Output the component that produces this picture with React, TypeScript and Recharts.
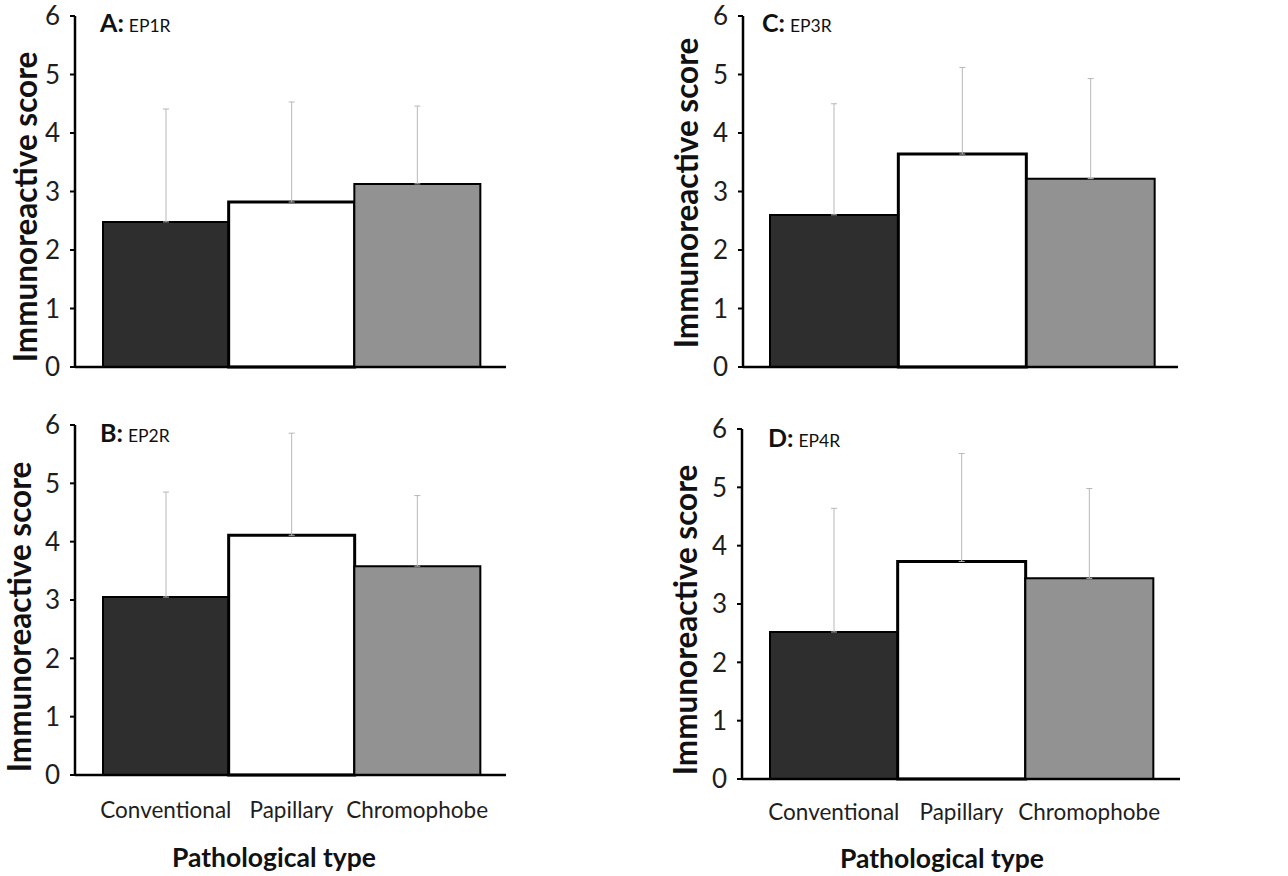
import { Bar, BarChart, Cell, ErrorBar, Label, XAxis, YAxis } from "recharts";

const categories = ["Conventional", "Papillary", "Chromophobe"];
const yTicks = [0, 1, 2, 3, 4, 5, 6];

// mean immunoreactive score and SD (upper error only) per pathological type
const ep1rMean = [2.48, 2.82, 3.13];
const ep1rSd = [1.93, 1.71, 1.33];
const ep2rMean = [3.05, 4.11, 3.58];
const ep2rSd = [1.8, 1.75, 1.21];
const ep3rMean = [2.6, 3.64, 3.22];
const ep3rSd = [1.9, 1.48, 1.71];
const ep4rMean = [2.52, 3.73, 3.44];
const ep4rSd = [2.12, 1.85, 1.54];

const fills = ["#2e2e2e", "#ffffff", "#929292"];
const borders = [2, 3, 2];
const FONT = "Lato, 'Open Sans', sans-serif";

type PanelProps = {
  letter: string;
  receptor: string;
  means: number[];
  sds: number[];
  left: number;
  top: number;
  width: number;
  height: number;
  axisWidth: number;
  margin: { top: number; right: number; bottom: number; left: number };
  padding: { left: number; right: number };
  xHeight: number;
  showX: boolean;
  tickGap: number;
  yLabel: { x: number; y: number };
  tag: { x: number; y: number };
  title?: { x: number; dy: number };
};

function Panel(p: PanelProps) {
  const data = categories.map((name, i) => ({
    name,
    mean: p.means[i],
    err: [0, p.sds[i]],
  }));

  return (
    <div style={{ position: "absolute", left: p.left, top: p.top }}>
      <BarChart
        width={p.width}
        height={p.height}
        data={data}
        margin={p.margin}
        barCategoryGap={0}
      >
        <XAxis
          dataKey="name"
          padding={p.padding}
          height={p.xHeight}
          axisLine={{ stroke: "#000", strokeWidth: 2.5 }}
          tickLine={false}
          tickSize={0}
          tickMargin={p.tickGap}
          tick={p.showX ? { fill: "#1e1e1e", fontSize: 22.5, fontFamily: FONT } : false}
          interval={0}
        >
          {p.title && (
            <Label
              content={({ viewBox }: any) => (
                <text
                  x={p.title!.x}
                  y={viewBox.y + p.title!.dy}
                  textAnchor="middle"
                  dominantBaseline="central"
                  fontFamily={FONT}
                  fontWeight="bold"
                  fontSize={26.5}
                  fill="#111"
                >
                  Pathological type
                </text>
              )}
            />
          )}
        </XAxis>
        <YAxis
          type="number"
          domain={[0, 6]}
          ticks={yTicks}
          interval={0}
          width={p.axisWidth}
          axisLine={{ stroke: "#000", strokeWidth: 2.5 }}
          tickLine={{ stroke: "#000", strokeWidth: 2 }}
          tickSize={5}
          tickMargin={10}
          tick={{ fill: "#1e1e1e", fontSize: 26, fontFamily: FONT }}
        >
          <Label
            content={() => (
              <text
                x={p.yLabel.x}
                y={p.yLabel.y}
                transform={`rotate(-90, ${p.yLabel.x}, ${p.yLabel.y})`}
                textAnchor="middle"
                dominantBaseline="central"
                fontFamily={FONT}
                fontWeight="bold"
                fontSize={31.5}
                fill="#111"
              >
                Immunoreactive score
              </text>
            )}
          />
        </YAxis>
        <Bar dataKey="mean" isAnimationActive={false}>
          {data.map((entry, i) => (
            <Cell
              key={`cell-${i}`}
              fill={fills[i]}
              stroke="#000"
              strokeWidth={borders[i]}
            />
          ))}
          <ErrorBar
            dataKey="err"
            direction="y"
            width={3}
            stroke="#b8b8b8"
            strokeWidth={1}
            isAnimationActive={false}
          />
        </Bar>
        <text x={p.tag.x} y={p.tag.y} fontFamily={FONT} fill="#111">
          <tspan fontSize={25} fontWeight="bold">
            {p.letter}:
          </tspan>
          <tspan fontSize={17.5} dx={5}>
            {p.receptor}
          </tspan>
        </text>
      </BarChart>
    </div>
  );
}

export default function App() {
  return (
    <div
      style={{
        position: "absolute",
        left: 0,
        top: 0,
        width: 1288,
        height: 876,
        background: "#fff",
      }}
    >
      <Panel
        letter="A"
        receptor="EP1R"
        means={ep1rMean}
        sds={ep1rSd}
        left={0}
        top={0}
        width={520}
        height={400}
        axisWidth={75}
        margin={{ top: 16, right: 14, bottom: 32, left: 0 }}
        padding={{ left: 28, right: 26 }}
        xHeight={1}
        showX={false}
        tickGap={0}
        yLabel={{ x: 25, y: 207 }}
        tag={{ x: 100, y: 32 }}
      />
      <Panel
        letter="C"
        receptor="EP3R"
        means={ep3rMean}
        sds={ep3rSd}
        left={660}
        top={0}
        width={532}
        height={400}
        axisWidth={83}
        margin={{ top: 16, right: 14, bottom: 32, left: 0 }}
        padding={{ left: 27, right: 23 }}
        xHeight={1}
        showX={false}
        tickGap={0}
        yLabel={{ x: 26, y: 193 }}
        tag={{ x: 102, y: 32 }}
      />
      <Panel
        letter="B"
        receptor="EP2R"
        means={ep2rMean}
        sds={ep2rSd}
        left={0}
        top={400}
        width={520}
        height={476}
        axisWidth={75}
        margin={{ top: 25, right: 14, bottom: 11, left: 0 }}
        padding={{ left: 28, right: 26 }}
        xHeight={90}
        showX={true}
        tickGap={27}
        yLabel={{ x: 19, y: 217 }}
        tag={{ x: 100, y: 42 }}
        title={{ x: 274, dy: 82 }}
      />
      <Panel
        letter="D"
        receptor="EP4R"
        means={ep4rMean}
        sds={ep4rSd}
        left={660}
        top={400}
        width={534}
        height={476}
        axisWidth={82}
        margin={{ top: 29, right: 14, bottom: 7, left: 0 }}
        padding={{ left: 28, right: 27 }}
        xHeight={90}
        showX={true}
        tickGap={25}
        yLabel={{ x: 25, y: 220 }}
        tag={{ x: 108, y: 47 }}
        title={{ x: 282, dy: 79 }}
      />
    </div>
  );
}
